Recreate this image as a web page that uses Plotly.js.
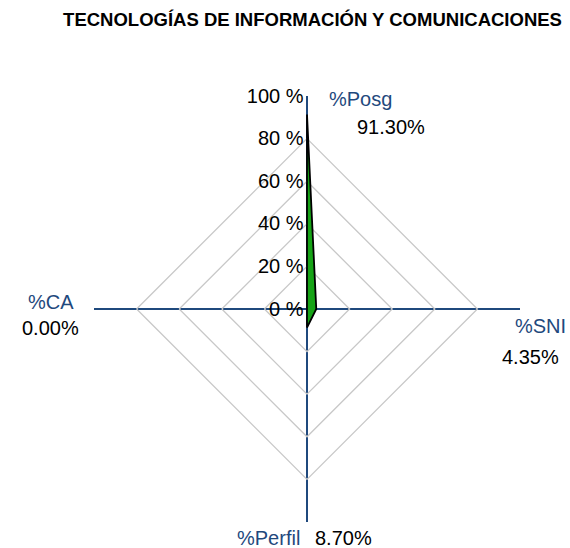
<!DOCTYPE html>
<html>
<head>
<meta charset="utf-8">
<script src="https://cdn.plot.ly/plotly-3.0.1.min.js"></script>
<style>html,body{margin:0;padding:0;background:#fff;}#chart{width:570px;height:548px;}</style>
</head>
<body>
<div id="chart"></div>
<script>
const chartTitle = "TECNOLOGÍAS DE INFORMACIÓN Y COMUNICACIONES";
const categories = ["%Posg", "%SNI", "%Perfil", "%CA"];
const values = [91.30, 4.35, 8.70, 0.00];
const radialTicks = [0, 20, 40, 60, 80, 100];
const radialTickText = ["0 %", "20 %", "40 %", "60 %", "80 %", "100 %"];

const W = 570, H = 548;
const cx = 307, cy = 309, R = 213;
const navy = "#1f497d";

const theta = categories.concat([categories[0]]);
const r = values.concat([values[0]]);

const trace = {
  type: "scatterpolar",
  r: r,
  theta: theta,
  mode: "lines",
  fill: "toself",
  fillcolor: "#16a316",
  line: {color: "#000000", width: 1.8},
  hoverinfo: "skip"
};

// label placements (paper px): [catX, catY, catAnchor, valX, valY, valAnchor]
const labelPos = [
  [327, 99, "left", 355, 127, "left"],
  [568, 326, "right", 561, 357, "right"],
  [302, 538, "right", 313, 538, "left"],
  [76, 302, "right", 81, 328, "right"]
];
const annotations = [];
categories.forEach((c, i) => {
  const p = labelPos[i];
  annotations.push({xref: "paper", yref: "paper", x: p[0] / W, y: 1 - p[1] / H, text: c,
    showarrow: false, xanchor: p[2], yanchor: "middle", font: {size: 20, color: navy}});
  annotations.push({xref: "paper", yref: "paper", x: p[3] / W, y: 1 - p[4] / H,
    text: values[i].toFixed(2) + "%", showarrow: false, xanchor: p[5], yanchor: "middle",
    font: {size: 20, color: "#000000"}});
});

const layout = {
  width: W, height: H,
  margin: {l: 0, r: 0, t: 0, b: 0},
  paper_bgcolor: "#ffffff",
  showlegend: false,
  font: {family: "Liberation Sans, Arial, sans-serif", size: 20, color: "#000"},
  title: {text: "<b>" + chartTitle + "</b>", x: 312.5 / W, xanchor: "center", y: 1 - 20 / H, yanchor: "middle",
    font: {size: 18.5, color: "#000"}},
  polar: {
    domain: {x: [(cx - R) / W, (cx + R) / W], y: [1 - (cy + R) / H, 1 - (cy - R) / H]},
    gridshape: "linear",
    bgcolor: "rgba(0,0,0,0)",
    radialaxis: {
      range: [0, 100], tickvals: radialTicks, ticktext: radialTickText, angle: 90, tickangle: 90,
      side: "counterclockwise",
      showline: false, gridcolor: "#c8c8c8", gridwidth: 1.3, ticks: "",
      tickfont: {size: 20, color: "#000"}
    },
    angularaxis: {
      rotation: 90, direction: "clockwise", showticklabels: false, ticks: "",
      showline: false, gridcolor: navy, gridwidth: 2
    }
  },
  annotations: annotations
};

Plotly.newPlot("chart", [trace], layout, {displayModeBar: false, staticPlot: true});
</script>
</body>
</html>
